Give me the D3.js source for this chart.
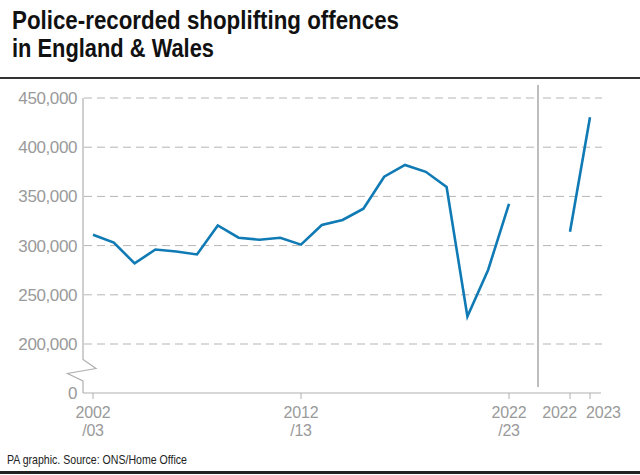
<!DOCTYPE html>
<html>
<head>
<meta charset="utf-8">
<script src="https://cdn.jsdelivr.net/npm/d3@7"></script>
<style>
  html, body { margin: 0; padding: 0; background: #fff; }
  svg { display: block; }
  text { font-family: "Liberation Sans", Arial, sans-serif; }
</style>
</head>
<body>
<svg id="chart" width="640" height="475"></svg>
<script>
// ---- data ----
const periods = ["2002/03","2003/04","2004/05","2005/06","2006/07","2007/08","2008/09","2009/10","2010/11","2011/12","2012/13","2013/14","2014/15","2015/16","2016/17","2017/18","2018/19","2019/20","2020/21","2021/22","2022/23"];
const offences = [311000, 303000, 282000, 296000, 294000, 291000, 320500, 308000, 306000, 308000, 301000, 321000, 326000, 337500, 370000, 382000, 375000, 359500, 228000, 275500, 342500];
const calendarYears = [2022, 2023];
const calendarOffences = [314000, 430500];
const yTicks = [0, 200000, 250000, 300000, 350000, 400000, 450000];
const xTickLabels = [["2002", "/03"], ["2012", "/13"], ["2022", "/23"]];
const xTickIndex = [0, 10, 20];
const titleLines = ["Police-recorded shoplifting offences", "in England & Wales"];
const sourceText = "PA graphic. Source: ONS/Home Office";

// ---- layout ----
const svg = d3.select("#chart");
const blue = "#0f7ab4";
const grey = "#9a9a9a";

const y = d3.scaleLinear().domain([0, 200000, 450000]).range([393, 344, 98]);
const x = d3.scaleLinear().domain([0, periods.length - 1]).range([93, 509]);
const x2 = d3.scaleLinear().domain([2022, 2023]).range([570, 590]);

// title
const title = svg.append("g");
const titleWidths = [387, 202];
titleLines.forEach((t, i) => {
  title.append("text")
    .attr("x", 12).attr("y", 29 + i * 28)
    .attr("font-size", 25).attr("font-weight", "bold")
    .attr("fill", "#111")
    .attr("textLength", titleWidths[i]).attr("lengthAdjust", "spacingAndGlyphs")
    .text(t);
});
svg.append("rect").attr("x", 0).attr("y", 77).attr("width", 640).attr("height", 2).attr("fill", "#333");

// gridlines
const gridTicks = yTicks.filter(d => d >= 200000);
svg.append("g").selectAll("line.gl").data(gridTicks).join("line")
  .attr("x1", 84).attr("x2", 534).attr("y1", d => y(d)).attr("y2", d => y(d))
  .attr("stroke", "#b5b5b5").attr("stroke-width", 1).attr("stroke-dasharray", "8,5");
svg.append("g").selectAll("line.gr").data(gridTicks).join("line")
  .attr("x1", 543).attr("x2", 602).attr("y1", d => y(d)).attr("y2", d => y(d))
  .attr("stroke", "#b5b5b5").attr("stroke-width", 1).attr("stroke-dasharray", "8,5");

// y axis labels
svg.append("g").selectAll("text").data(yTicks).join("text")
  .attr("x", 77).attr("y", d => y(d)).attr("dy", "0.35em")
  .attr("text-anchor", "end").attr("font-size", 17).attr("fill", grey)
  .attr("letter-spacing", -0.4)
  .text(d => d3.format(",")(d));

// y axis line with break
const yAxisPath = d3.path();
yAxisPath.moveTo(83, y(450000));
yAxisPath.lineTo(83, 359.5);
yAxisPath.lineTo(96, 368.5);
yAxisPath.lineTo(67.5, 373.5);
yAxisPath.lineTo(83, 381);
yAxisPath.lineTo(83, y(0));
svg.append("path").attr("d", yAxisPath.toString()).attr("fill", "none")
  .attr("stroke", "#b0b0b0").attr("stroke-width", 1.2);

// baseline
svg.append("line").attr("x1", 83).attr("x2", 601).attr("y1", y(0)).attr("y2", y(0))
  .attr("stroke", "#b0b0b0").attr("stroke-width", 1.2);

// x ticks (left)
const xt = svg.append("g").selectAll("g").data(xTickIndex).join("g")
  .attr("transform", d => `translate(${x(d)},0)`);
xt.append("line").attr("y1", y(0)).attr("y2", y(0) + 6).attr("stroke", "#b0b0b0");
const xtText = xt.append("text").attr("y", 418).attr("text-anchor", "middle").attr("font-size", 16)
  .attr("fill", grey).attr("letter-spacing", -0.2);
xtText.append("tspan").attr("x", 0).text((d, i) => xTickLabels[i][0]);
xtText.append("tspan").attr("x", 0).attr("dy", 18).text((d, i) => xTickLabels[i][1]);

// x ticks (right)
const xt2 = svg.append("g").selectAll("g").data(calendarYears).join("g")
  .attr("transform", d => `translate(${x2(d)},0)`);
xt2.append("line").attr("y1", y(0)).attr("y2", y(0) + 6).attr("stroke", "#b0b0b0");
xt2.append("text").attr("y", 418).attr("text-anchor", (d, i) => i === 0 ? "end" : "start")
  .attr("dx", (d, i) => i === 0 ? 7 : -4)
  .attr("font-size", 16).attr("fill", grey).attr("letter-spacing", -0.2).text(d => d);

// separator
svg.append("line").attr("x1", 538).attr("x2", 538).attr("y1", 85).attr("y2", 387)
  .attr("stroke", "#a8a8a8").attr("stroke-width", 1.5);

// lines
const line = d3.line().x((d, i) => x(i)).y(d => y(d));
svg.append("path").datum(offences).attr("d", line).attr("fill", "none")
  .attr("stroke", blue).attr("stroke-width", 2.6).attr("stroke-linejoin", "miter");
const line2 = d3.line().x((d, i) => x2(calendarYears[i])).y(d => y(d));
svg.append("path").datum(calendarOffences).attr("d", line2).attr("fill", "none")
  .attr("stroke", blue).attr("stroke-width", 2.6);

// footer
svg.append("text").attr("x", 7).attr("y", 464).attr("font-size", 13).attr("fill", "#222")
  .attr("textLength", 180).attr("lengthAdjust", "spacingAndGlyphs").text(sourceText);
svg.append("rect").attr("x", 0).attr("y", 471).attr("width", 640).attr("height", 3).attr("fill", "#222");
</script>
</body>
</html>
